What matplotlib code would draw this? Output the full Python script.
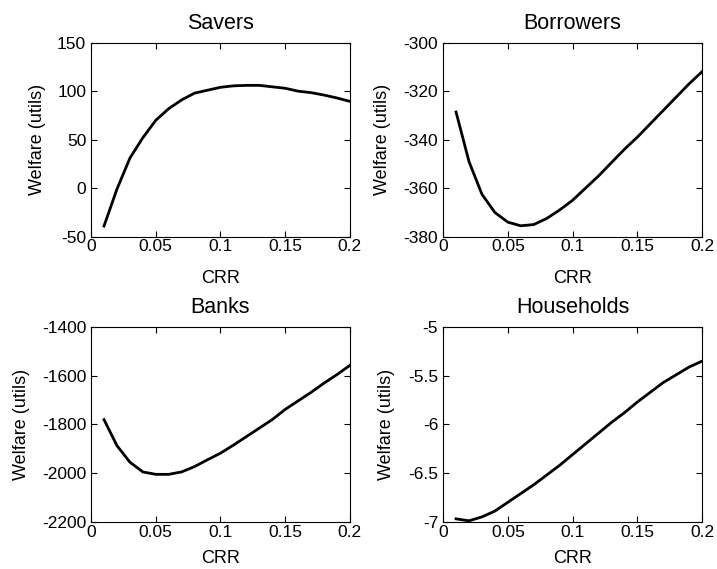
import numpy as np
import matplotlib
matplotlib.use("Agg")
import matplotlib.pyplot as plt

plt.rcParams['font.family'] = ['Liberation Sans', 'DejaVu Sans']

# CRR grid
crr = [0.01, 0.02, 0.03, 0.04, 0.05, 0.06, 0.07, 0.08, 0.09, 0.10,
       0.11, 0.12, 0.13, 0.14, 0.15, 0.16, 0.17, 0.18, 0.19, 0.20]

savers = [-39, -1, 31, 52, 70, 82, 91, 98, 101, 104,
          105.5, 106, 106, 104.5, 103, 100, 98.5, 96, 93, 89.5]
borrowers = [-328.6, -349, -362.5, -370, -374, -375.5, -375, -372.5, -369, -365,
             -360, -355, -349.5, -344, -339, -333.5, -328, -322.5, -317, -312]
banks = [-1780, -1887, -1955, -1995, -2005, -2005, -1995, -1973, -1945, -1918,
         -1885, -1850, -1815, -1780, -1738, -1703, -1668, -1630, -1595, -1557]
households = [-6.97, -6.99, -6.95, -6.89, -6.80, -6.71, -6.62, -6.52, -6.42, -6.31,
              -6.20, -6.09, -5.98, -5.88, -5.77, -5.67, -5.57, -5.49, -5.41, -5.35]

titulos = ['Savers', 'Borrowers', 'Banks', 'Households']
series = [savers, borrowers, banks, households]
limites_y = [(-50, 150), (-380, -300), (-2200, -1400), (-7, -5)]
ticks_y = [[-50, 0, 50, 100, 150],
           [-380, -360, -340, -320, -300],
           [-2200, -2000, -1800, -1600, -1400],
           [-7, -6.5, -6, -5.5, -5]]
etiquetas_y = [['-50', '0', '50', '100', '150'],
               ['-380', '-360', '-340', '-320', '-300'],
               ['-2200', '-2000', '-1800', '-1600', '-1400'],
               ['-7', '-6.5', '-6', '-5.5', '-5']]
ticks_x = [0, 0.05, 0.1, 0.15, 0.2]
etiquetas_x = ['0', '0.05', '0.1', '0.15', '0.2']

fig = plt.figure(figsize=(7.17, 5.69), dpi=100)

# posiciones de los ejes (izq, abajo, ancho, alto)
posiciones = [[0.127, 0.584, 0.361, 0.341],
              [0.618, 0.584, 0.361, 0.341],
              [0.127, 0.083, 0.361, 0.342],
              [0.618, 0.083, 0.361, 0.342]]
# donde quedan las etiquetas de los ejes (fraccion del eje), como en matlab
pos_ylabel = [-0.176, -0.203, -0.234, -0.184]
pos_xlabel = [-0.17, -0.17, -0.145, -0.145]

for i in range(4):
    ax = fig.add_axes(posiciones[i])
    ax.plot(crr, series[i], color='black', linewidth=2)
    ax.set_xlim(0, 0.2)
    ax.set_ylim(*limites_y[i])
    ax.set_xticks(ticks_x)
    ax.set_xticklabels(etiquetas_x)
    ax.set_yticks(ticks_y[i])
    ax.set_yticklabels(etiquetas_y[i])
    ax.tick_params(direction='in', top=True, right=True, length=4,
                   width=0.8, labelsize=12.5)
    ax.tick_params(axis='x', pad=2)
    ax.tick_params(axis='y', pad=3.5)
    for lado in ax.spines.values():
        lado.set_linewidth(0.8)
    ax.set_title(titulos[i], fontsize=15.5, pad=10)
    ax.set_xlabel('CRR', fontsize=13)
    ax.set_ylabel('Welfare (utils)', fontsize=13)
    ax.xaxis.set_label_coords(0.5, pos_xlabel[i])
    ax.yaxis.set_label_coords(pos_ylabel[i], 0.5)

fig.savefig('out.png', dpi=100)
